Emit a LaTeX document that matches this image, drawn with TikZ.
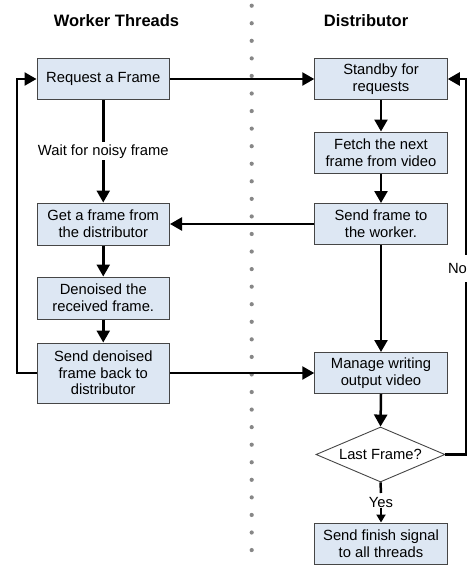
\documentclass[tikz,border=0pt]{standalone}
\usepackage{fontspec}
\setmainfont{Liberation Sans}
\usetikzlibrary{arrows.meta,shapes.geometric}
\definecolor{boxfill}{RGB}{221,231,243}
\definecolor{boxline}{RGB}{70,70,70}
\definecolor{dotgray}{RGB}{135,135,135}
\tikzset{
  stepbox/.style={draw=boxline,line width=1pt,fill=boxfill,minimum width=132.5pt,minimum height=41pt,align=center,inner sep=2pt,font=\fontsize{14.76}{16.7}\selectfont},
  decbox/.style={diamond,draw=boxline,line width=0.9pt,fill=white,minimum width=129pt,minimum height=55pt,aspect=2.35,inner sep=0pt,font=\fontsize{14.76}{16.7}\selectfont},
  conn/.style={line width=2.5pt,-{Triangle[length=12pt,width=13pt]}},
  plainconn/.style={line width=2.5pt},
  lbl/.style={fill=white,inner sep=2pt,font=\fontsize{14.76}{16.7}\selectfont},
  ttl/.style={font=\fontsize{16.5}{19}\selectfont\bfseries}
}
\begin{document}
\begin{tikzpicture}[x=1pt,y=-1pt]
\useasboundingbox (0,0) rectangle (473,565);
% dotted divider
\foreach \i in {0,...,31} \fill[dotgray] (251.7,5.7+17.56*\i) circle (2.1);
% titles
\node[ttl] (t1) at (116.5,20.5) {Worker Threads};
\node[ttl] (t2) at (366,21) {Distributor};
% worker boxes
\node[stepbox] (req) at (103.25,79) {Request a Frame};
\node[stepbox,minimum height=42pt] (get) at (103.25,224) {Get a frame from\\the distributor};
\node[stepbox,minimum height=42pt] (den) at (103.25,298) {Denoised the\\received frame.};
\node[stepbox,minimum height=60pt] (snd) at (103.25,373) {Send denoised\\frame back to\\distributor};
% distributor boxes
\node[stepbox] (stb) at (381,79) {Standby for\\requests};
\node[stepbox] (fet) at (381,152.5) {Fetch the next\\frame from video};
\node[stepbox] (sfw) at (381,224) {Send frame to\\the worker.};
\node[stepbox] (man) at (381,373) {Manage writing\\output video};
\node[decbox] (dia) at (380.5,454.5) {Last Frame?};
\node[stepbox] (fin) at (381,543.5) {Send finish signal\\to all threads};
% connectors
\draw[conn] (req.east) -- (stb.west);
\draw[conn] (req.south) -- node[lbl] (wl) {Wait for noisy frame} (get.north);
\draw[conn] (get.south) -- (den.north);
\draw[conn] (den.south) -- (snd.north);
\coordinate (lp) at (17,373);
\draw[conn] (snd.west) -- (lp) |- (req.west);
\draw[conn] (snd.east) -- (man.west);
\draw[conn] (stb.south) -- (fet.north);
\draw[conn] (fet.south) -- (sfw.north);
\draw[conn] (sfw.west) -- (get.east);
\draw[conn] (sfw.south) -- (man.north);
\draw[conn] (man.south) -- (dia.north);
\coordinate (rp) at (466,454.5);
\draw[conn] (dia.east) -- (rp) |- (stb.east);
\node[fill=white,inner xsep=1pt,minimum height=27pt,font=\fontsize{14.76}{16.7}\selectfont] (nol) at (457.5,268) {No};
\draw[plainconn] (dia.south) -- (381,493);
\node[lbl,inner sep=1pt] (yl) at (381,502) {Yes};
\draw[line width=2.5pt,-{Triangle[length=8pt,width=9pt]}] (yl.south) -- (fin.north);
\end{tikzpicture}
\end{document}
